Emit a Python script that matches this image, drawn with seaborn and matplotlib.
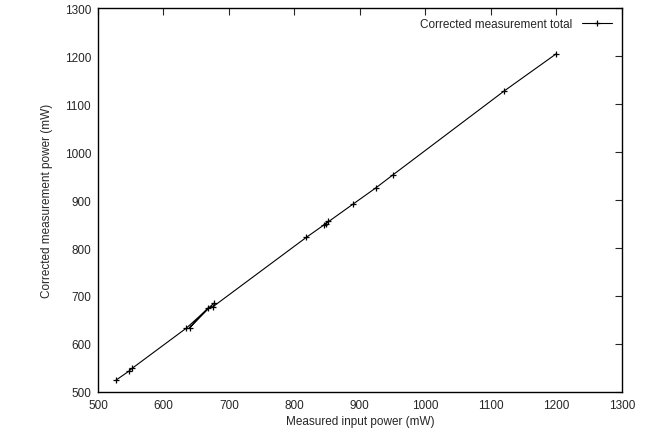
import seaborn as sns
import numpy as np
import pandas as pd
import matplotlib.pyplot as plt

# measured input vs corrected power, in measurement order
measured = [528, 547, 552, 635, 677, 640, 668, 676, 818, 845, 852, 848, 890, 925, 950, 1120, 1200]
corrected = [525, 543, 549, 633, 685, 634, 675, 678, 822, 848, 856, 851, 892, 926, 952, 1127, 1205]
label = 'Corrected measurement total'

sns.set_style('white')
plt.rcParams['font.family'] = ['Liberation Sans', 'DejaVu Sans']

df = pd.DataFrame({'measured': measured, 'corrected': corrected, 'series': label})

fig = plt.figure(figsize=(6.49, 4.39), dpi=100)
ax = fig.add_axes([0.151, 0.105, 0.807, 0.874])

sns.lineplot(data=df, x='measured', y='corrected', hue='series', palette=['black'],
             sort=False, estimator=None, marker='+', markersize=5, markeredgewidth=0.9,
             markeredgecolor='black', linewidth=0.8, ax=ax)

ax.set_xlim(500, 1300)
ax.set_ylim(500, 1300)
ax.set_xticks(np.arange(500, 1301, 100))
ax.set_yticks(np.arange(500, 1301, 100))
ax.tick_params(direction='in', length=5, width=0.8, top=True, right=True, labelsize=8.5, pad=5)
for s in ax.spines.values():
    s.set_color('black')
    s.set_linewidth(1.0)

ax.set_xlabel('Measured input power (mW)', fontsize=8.5, labelpad=3)
ax.set_ylabel('Corrected measurement power (mW)', fontsize=8.5, labelpad=8)

ax.legend(loc='upper right', frameon=False, markerfirst=False, fontsize=8.5,
          handlelength=2.6, borderaxespad=0.4)

fig.savefig('out.png', dpi=100)
plt.close()
